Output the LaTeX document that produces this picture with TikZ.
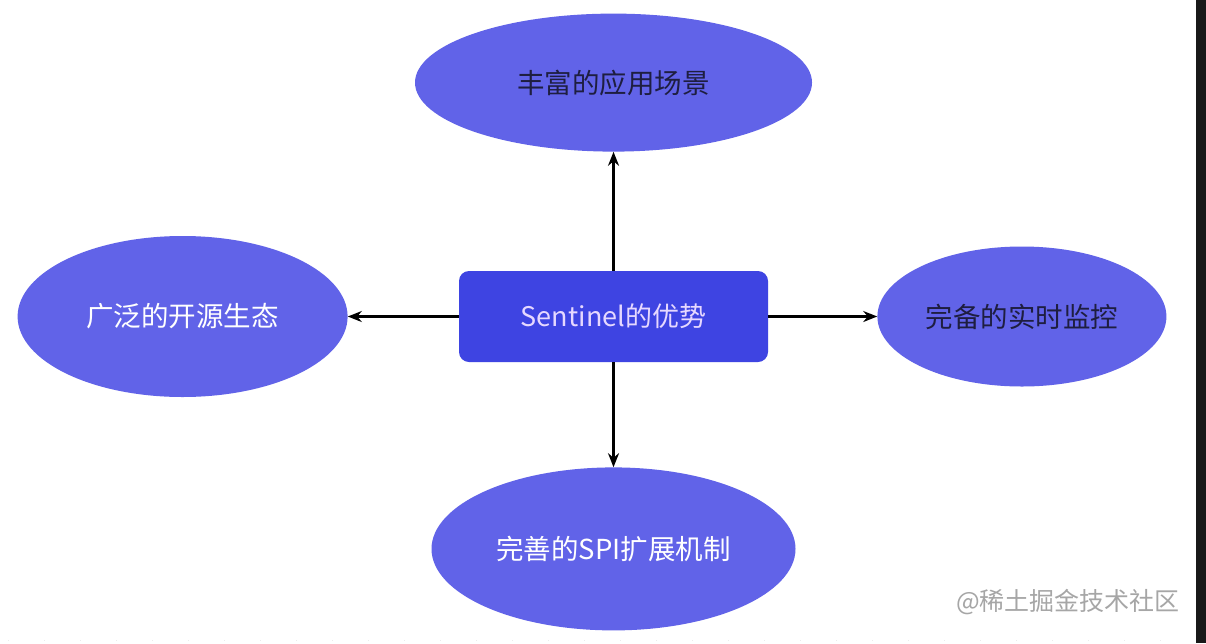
\documentclass[tikz,border=0pt]{standalone}
\usepackage{fontspec}
\newfontfamily\cjk{Noto Sans CJK SC}
\usetikzlibrary{positioning,arrows.meta,shapes.geometric}
\definecolor{ovalblue}{HTML}{6163E8}
\definecolor{boxblue}{HTML}{3E44E2}
\definecolor{darktxt}{HTML}{1E1E40}
\definecolor{lighttxt}{HTML}{E6D8FF}

\begin{document}
\begin{tikzpicture}[
  x=1pt, y=-1pt,
  oval/.style={ellipse, fill=ovalblue, inner sep=0pt, font=\cjk\fontsize{27.5}{32}\selectfont},
  core/.style={rectangle, rounded corners=10pt, fill=boxblue, minimum width=309pt, minimum height=91pt, inner sep=0pt, font=\cjk\fontsize{27}{32}\selectfont, text=lighttxt},
  arr/.style={-{Stealth[length=14pt, width=11pt]}, line width=2.3pt}
]
\useasboundingbox[fill=white] (0,0) rectangle (1206,643);
\fill[black!90] (1196,0) rectangle (1206,643);
\draw[black!8, line width=1pt, dash pattern=on 1pt off 35pt] (8,640) -- (1190,640);

\node[core] (adv) at (613.5,316.5) {Sentinel的优势};

\node[oval, minimum width=397pt, minimum height=138pt, text=darktxt, above=119pt of adv] (scene) {丰富的应用场景};
\node[oval, minimum width=330pt, minimum height=161pt, text=white, left=111pt of adv] (eco) {广泛的开源生态};
\node[oval, minimum width=289pt, minimum height=140pt, text=darktxt, right=109pt of adv] (mon) {完备的实时监控};
\node[oval, minimum width=364pt, minimum height=163pt, text=white, below=105pt of adv] (spi) {完善的SPI扩展机制};

\draw[arr] (adv) -- (scene);
\draw[arr] (adv) -- (eco);
\draw[arr] (adv) -- (mon);
\draw[arr] (adv) -- (spi);

\node[font=\cjk\fontsize{25}{30}\selectfont, text=black!35] (mark) at (1068,602) {@稀土掘金技术社区};
\end{tikzpicture}
\end{document}
